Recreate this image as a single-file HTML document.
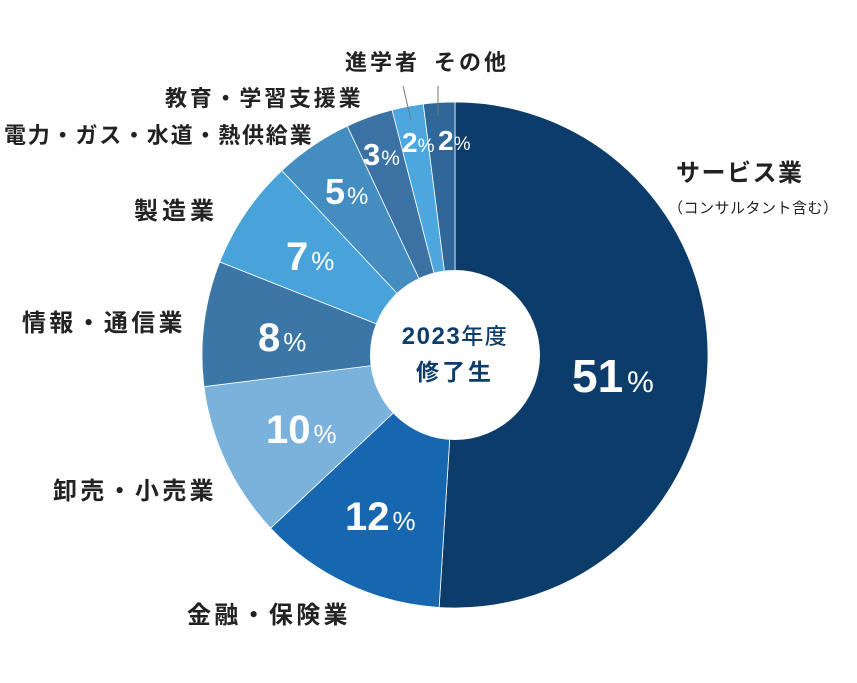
<!DOCTYPE html>
<html><head><meta charset="utf-8"><style>
body{margin:0;background:#fff;}
svg{display:block;font-family:"Liberation Sans","Noto Sans CJK JP",sans-serif;}
.l{font-weight:700;fill:#222;}
.p{fill:#fff;font-weight:700;}
</style></head><body>
<svg width="857" height="683" viewBox="0 0 857 683">
<g id="pie"></g>
<circle cx="455" cy="355" r="85" fill="#fff"/>
<text x="455" y="344" text-anchor="middle" font-size="24" font-weight="700" fill="#0d3d6b" letter-spacing="1.5">2023<tspan font-size="22" font-weight="500">年度</tspan></text>
<text x="455" y="380" text-anchor="middle" font-size="23" font-weight="700" fill="#0d3d6b" letter-spacing="3">修了生</text>
<g class="p">
<text x="572" y="392" font-size="46">51<tspan font-size="30" dx="4" font-weight="400">%</tspan></text>
<text x="345" y="530" font-size="40">12<tspan font-size="26" dx="3" font-weight="400">%</tspan></text>
<text x="266" y="443" font-size="40">10<tspan font-size="26" dx="3" font-weight="400">%</tspan></text>
<text x="258" y="351" font-size="40">8<tspan font-size="26" dx="3" font-weight="400">%</tspan></text>
<text x="286" y="270" font-size="40">7<tspan font-size="26" dx="3" font-weight="400">%</tspan></text>
<text x="325" y="204" font-size="36">5<tspan font-size="24" dx="2" font-weight="400">%</tspan></text>
<text x="363" y="165" font-size="31">3<tspan font-size="21" dx="1" font-weight="400">%</tspan></text>
<text x="402" y="152" font-size="28">2<tspan font-size="19" font-weight="400">%</tspan></text>
<text x="438" y="150" font-size="28">2<tspan font-size="19" font-weight="400">%</tspan></text>
</g>
<line x1="403" y1="86" x2="411" y2="120" stroke="#777" stroke-width="1"/>
<line x1="438" y1="86" x2="438" y2="116" stroke="#777" stroke-width="1"/>
<g class="l">
<text x="676" y="181" font-size="24" letter-spacing="1.5">サービス業</text>
<text x="668" y="213" font-size="15" font-weight="400" letter-spacing="0.5">（コンサルタント含む）</text>
<text x="134" y="219" font-size="24" letter-spacing="4">製造業</text>
<text x="22" y="331" font-size="24" letter-spacing="3.3">情報・通信業</text>
<text x="53" y="499" font-size="24" letter-spacing="3.3">卸売・小売業</text>
<text x="187" y="623" font-size="24" letter-spacing="3.3">金融・保険業</text>
<text x="4" y="143" font-size="22" letter-spacing="1.8">電力・ガス・水道・熱供給業</text>
<text x="165" y="106" font-size="22" letter-spacing="2.8">教育・学習支援業</text>
<text x="345" y="70" font-size="22" letter-spacing="3">進学者</text>
<text x="434" y="70" font-size="22" letter-spacing="3">その他</text>
</g>
</svg>
<script>
var d=[[51,"#0c3d6a"],[12,"#1767b0"],[10,"#7ab2db"],[8,"#3b76a7"],[7,"#49a3db"],[5,"#438dc1"],[3,"#3a72a3"],[2,"#4ba7de"],[2,"#2f6798"]];
var cx=455,cy=355,r=253,a=0,g=document.getElementById("pie"),s="";
d.forEach(function(e){var b=a+e[0]/100*2*Math.PI;
var x1=cx+r*Math.sin(a),y1=cy-r*Math.cos(a),x2=cx+r*Math.sin(b),y2=cy-r*Math.cos(b);
s+='<path d="M'+cx+','+cy+'L'+x1+','+y1+'A'+r+','+r+' 0 '+(b-a>Math.PI?1:0)+' 1 '+x2+','+y2+'Z" fill="'+e[1]+'" stroke="#fff" stroke-width="0.8"/>';a=b;});
g.innerHTML=s;
</script>
</body></html>
